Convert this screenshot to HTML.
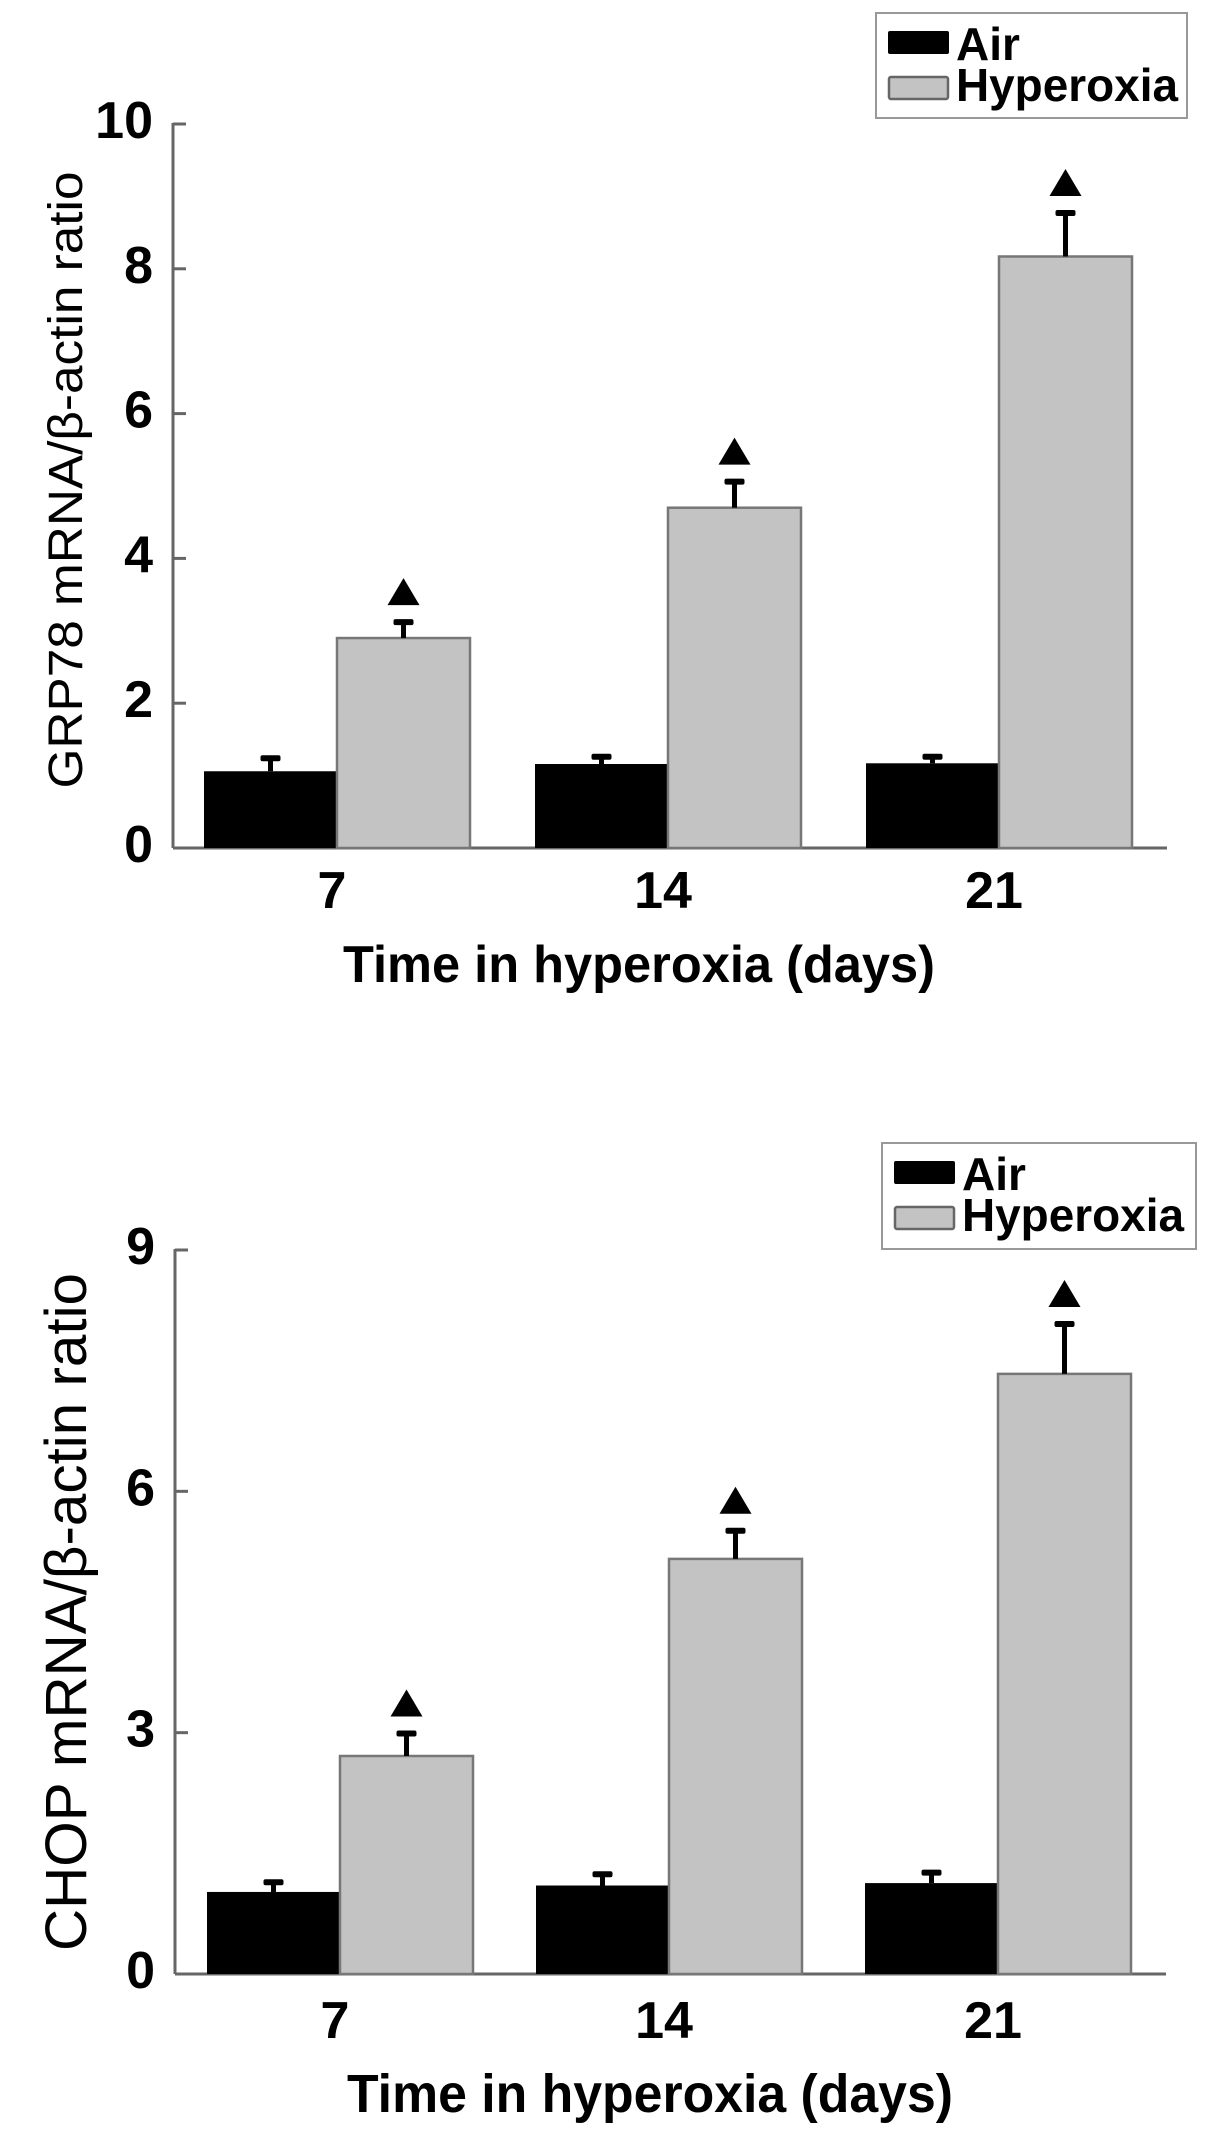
<!DOCTYPE html>
<html><head><meta charset="utf-8">
<style>
html,body{margin:0;padding:0;background:#fff;}
svg{display:block;}
text{font-family:"Liberation Sans",Arial,sans-serif;}
</style></head>
<body>
<svg id="fig" width="1205" height="2135" viewBox="0 0 1205 2135" xmlns="http://www.w3.org/2000/svg"></svg>
<script>
// ---- data ----
const categories = ["7", "14", "21"];
const grpAir = [1.06, 1.16, 1.17];
const grpAirErr = [0.18, 0.10, 0.09];
const grpHyp = [2.90, 4.70, 8.17];
const grpHypErr = [0.22, 0.36, 0.60];
const grpTicks = [0, 2, 4, 6, 8, 10];
const chopAir = [1.02, 1.10, 1.13];
const chopAirErr = [0.12, 0.14, 0.13];
const chopHyp = [2.71, 5.16, 7.46];
const chopHypErr = [0.28, 0.35, 0.62];
const chopTicks = [0, 3, 6, 9];

const NS = "http://www.w3.org/2000/svg";
const svg = document.getElementById("fig");
function mk(tag, attrs, parent) {
  const e = document.createElementNS(NS, tag);
  for (const k in attrs) e.setAttribute(k, attrs[k]);
  (parent || svg).appendChild(e);
  return e;
}

function drawChart(cfg) {
  const g = mk("g", {});
  
  
  const yMax = cfg.ticks[cfg.ticks.length - 1];
  const y = v => cfg.y0 - (v / yMax) * (cfg.y0 - cfg.yTop);
  const groupX = i => cfg.firstGroup + i * cfg.groupStep;

  const yAxis = mk("line", {x1: cfg.axisX, y1: y(yMax) - 1, x2: cfg.axisX, y2: cfg.y0, stroke: "#666", "stroke-width": 3}, g);
  
  
  const xAxis = mk("line", {x1: cfg.axisX, y1: cfg.y0, x2: cfg.axisEnd, y2: cfg.y0, stroke: "#666", "stroke-width": 3}, g);
  
  

  cfg.ticks.forEach(t => {
    const tk = mk("line", {x1: cfg.axisX, y1: y(t), x2: cfg.axisX + 13, y2: y(t), stroke: "#666", "stroke-width": 3}, g);
    
    
    const tl = mk("text", {x: cfg.axisX - 20, y: y(t) + 14, "text-anchor": "end", "font-size": cfg.tickFont, "font-weight": "bold"}, g);
    tl.textContent = String(t);
    
    
  });

  categories.forEach((c, i) => {
    const gx = groupX(i);
    const bw = cfg.barW;
    const ab = mk("rect", {x: gx - bw, y: y(cfg.air[i]), width: bw, height: cfg.y0 - y(cfg.air[i]), fill: "#000"}, g);
    
    
    const hb = mk("rect", {x: gx, y: y(cfg.hyp[i]), width: bw, height: cfg.y0 - y(cfg.hyp[i]), fill: "#c3c3c3", stroke: "#777", "stroke-width": 2.5}, g);
    
    
    [[gx - bw / 2, cfg.air[i], cfg.airErr[i], 'air'], [gx + bw / 2, cfg.hyp[i], cfg.hypErr[i], 'hyperoxia']].forEach(([cx, v, e, s]) => {
      const eb = mk("g", {}, g);
      
      
      mk("rect", {x: cx - 2.5, y: y(v + e), width: 5, height: y(v) - y(v + e), fill: "#000"}, eb);
      mk("rect", {x: cx - 10, y: y(v + e) - 3, width: 20, height: 6, rx: 2, fill: "#000"}, eb);
    });
    const ty = y(cfg.hyp[i] + cfg.hypErr[i]) - 17;
    const tri = mk("polygon", {points: `${gx + bw / 2 - 16},${ty} ${gx + bw / 2 + 16},${ty} ${gx + bw / 2},${ty - 27}`, fill: "#000"}, g);
    
    
    const xl = mk("text", {x: gx - 5, y: cfg.xLabelY, "text-anchor": "middle", "font-size": cfg.tickFont, "font-weight": "bold"}, g);
    xl.textContent = c;
    
    
  });

  const xt = mk("text", {x: cfg.xTitleX, y: cfg.xTitleY, "font-size": cfg.xTitleFont, "font-weight": "bold", textLength: cfg.xTitleLen, lengthAdjust: "spacingAndGlyphs"}, g);
  xt.textContent = "Time in hyperoxia (days)";
  
  

  const yt = mk("text", {x: 0, y: 0, "font-size": cfg.yTitleFont, "text-anchor": "middle", textLength: cfg.yTitleLen, lengthAdjust: "spacingAndGlyphs",
    transform: `translate(${cfg.yTitleX},${cfg.yTitleCY}) rotate(-90)`}, g);
  yt.textContent = cfg.yTitle;
  
  

  const L = cfg.legend;
  const lg = mk("g", {}, g);
  
  
  mk("rect", {x: L.x, y: L.y, width: L.w, height: L.h, fill: "#fff", stroke: "#999", "stroke-width": 2}, lg);
  const la = mk("g", {}, lg);
  
  
  mk("rect", {x: L.x + 12, y: L.y + 18, width: 61, height: 23, rx: 2, fill: "#000"}, la);
  const lat = mk("text", {x: L.x + 80, y: L.y + 47, "font-size": 46, "font-weight": "bold"}, la);
  lat.textContent = "Air";
  const lh = mk("g", {}, lg);
  
  
  mk("rect", {x: L.x + 13, y: L.y + 64, width: 59, height: 22, rx: 2, fill: "#c3c3c3", stroke: "#666", "stroke-width": 2.5}, lh);
  const lht = mk("text", {x: L.x + 80, y: L.y + 88, "font-size": 46, "font-weight": "bold", textLength: 222, lengthAdjust: "spacingAndGlyphs"}, lh);
  lht.textContent = "Hyperoxia";
}

drawChart({
  name: "grp78-chart", air: grpAir, airErr: grpAirErr, hyp: grpHyp, hypErr: grpHypErr, ticks: grpTicks,
  axisX: 173, axisEnd: 1167, y0: 848, yTop: 124, firstGroup: 337, groupStep: 331, barW: 133,
  tickFont: 52, xLabelY: 908, xTitleX: 343, xTitleY: 982, xTitleFont: 52, xTitleLen: 592,
  yTitle: "GRP78 mRNA/\u03b2-actin ratio", yTitleFont: 48, yTitleLen: 617, yTitleX: 82, yTitleCY: 480,
  legend: {x: 876, y: 13, w: 311, h: 105}
});
drawChart({
  name: "chop-chart", air: chopAir, airErr: chopAirErr, hyp: chopHyp, hypErr: chopHypErr, ticks: chopTicks,
  axisX: 175, axisEnd: 1166, y0: 1974, yTop: 1250, firstGroup: 340, groupStep: 329, barW: 133,
  tickFont: 52, xLabelY: 2038, xTitleX: 347, xTitleY: 2112, xTitleFont: 54, xTitleLen: 606,
  yTitle: "CHOP mRNA/\u03b2-actin ratio", yTitleFont: 58, yTitleLen: 678, yTitleX: 86, yTitleCY: 1612,
  legend: {x: 882, y: 1143, w: 314, h: 106}
});
</script>
</body></html>
